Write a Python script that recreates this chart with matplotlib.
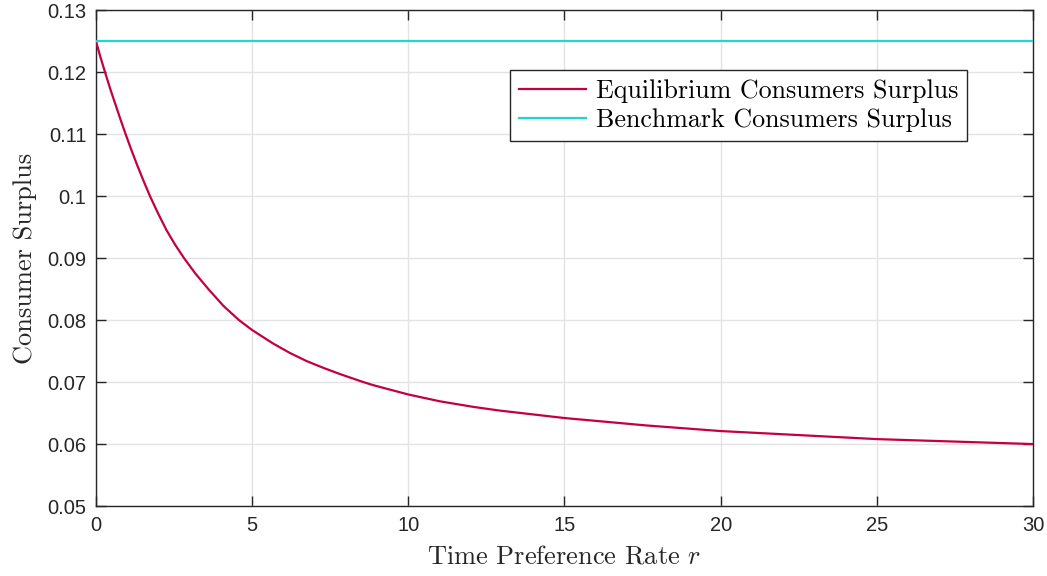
import matplotlib
matplotlib.use("Agg")
import matplotlib.pyplot as plt

# Time preference rate r and the equilibrium consumer surplus at each r
rate = [0, 0.145, 0.29, 0.47, 0.63, 0.79, 0.95, 1.13, 1.32, 1.52, 1.73,
        1.99, 2.26, 2.53, 2.82, 3.17, 3.60, 4.08, 4.58, 5.0, 5.68, 6.21,
        6.74, 7.28, 7.81, 8.56, 8.88, 10, 11.01, 12.08, 12.93, 15, 17.63,
        20, 25, 30]
equilibrium_cs = [0.125, 0.1224, 0.120, 0.1171, 0.1147, 0.1123, 0.110,
                  0.1075, 0.1050, 0.1025, 0.100, 0.0972, 0.0945, 0.0922,
                  0.090, 0.0876, 0.0850, 0.0823, 0.080, 0.0784, 0.0762,
                  0.0747, 0.0734, 0.0723, 0.0713, 0.0700, 0.0695, 0.0680,
                  0.0669, 0.0660, 0.0654, 0.0642, 0.0630, 0.0621, 0.0608,
                  0.0600]
# Benchmark surplus is constant in r
benchmark_rate = [0, 30]
benchmark_cs = [0.125, 0.125]

x_ticks = [0, 5, 10, 15, 20, 25, 30]
y_ticks = [0.05, 0.06, 0.07, 0.08, 0.09, 0.10, 0.11, 0.12, 0.13]
y_tick_labels = ["0.05", "0.06", "0.07", "0.08", "0.09", "0.1", "0.11",
                 "0.12", "0.13"]

plt.rcParams["mathtext.fontset"] = "cm"
axis_grey = "#262626"
serif = "cmr10"

fig = plt.figure(figsize=(10.47, 5.76), dpi=100)
ax = fig.add_axes([0.0917, 0.1215, 0.8949, 0.8605])

ax.plot(rate, equilibrium_cs, color="#C4003F", lw=1.6,
        label="Equilibrium Consumers Surplus", zorder=3)
ax.plot(benchmark_rate, benchmark_cs, color="#1ED6D6", lw=1.6,
        label="Benchmark Consumers Surplus", zorder=3)

ax.set_xlim(0, 30)
ax.set_ylim(0.05, 0.13)
ax.set_xticks(x_ticks)
ax.set_yticks(y_ticks)
ax.set_yticklabels(y_tick_labels)

ax.grid(True, color="#E3E3E3", lw=1.0)
ax.set_axisbelow(True)
ax.tick_params(direction="in", length=7, width=1.0, colors=axis_grey,
               labelsize=14.5, top=True, right=True, pad=7)
for lab in ax.get_xticklabels() + ax.get_yticklabels():
    lab.set_fontfamily(["Liberation Sans", "DejaVu Sans"])
for sp in ax.spines.values():
    sp.set_color(axis_grey)
    sp.set_linewidth(1.0)

ax.set_xlabel("Time Preference Rate $r$", fontfamily=serif, fontsize=19,
              color=axis_grey, labelpad=7)
ax.set_ylabel("Consumer Surplus", fontfamily=serif, fontsize=19,
              color=axis_grey, labelpad=7)

leg = ax.legend(loc="upper right", bbox_to_anchor=(0.9296, 0.88),
                borderaxespad=0, fancybox=False, framealpha=1,
                edgecolor=axis_grey, handlelength=2.6, handletextpad=0.35,
                borderpad=0.35, labelspacing=0.22,
                prop={"family": serif, "size": 18.7})
leg.get_frame().set_linewidth(1.0)

fig.savefig("out.png", dpi=100)
